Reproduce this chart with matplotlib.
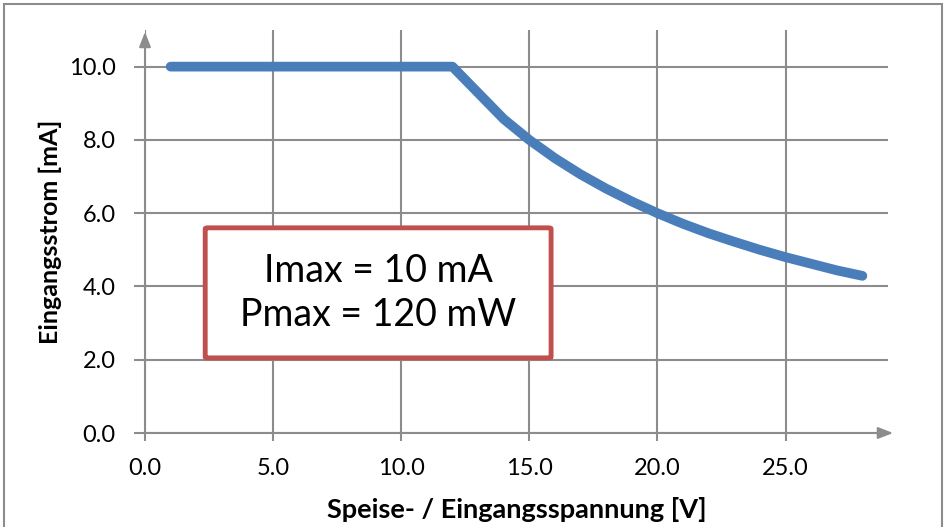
import matplotlib
matplotlib.use("Agg")
import matplotlib.pyplot as plt
from matplotlib.patches import Rectangle, FancyBboxPatch

plt.rcParams['font.family'] = ['Lato', 'DejaVu Sans']

voltage = [1, 12, 14, 15, 16, 17, 18, 19, 20, 21, 22, 23, 24, 25, 26, 27, 28]
current = [10.0, 10.0, 8.57, 8.0, 7.5, 7.06, 6.67, 6.32, 6.0, 5.71, 5.45, 5.22, 5.0, 4.8, 4.62, 4.44, 4.29]
x_ticks = [0, 5, 10, 15, 20, 25]
y_ticks = [0, 2, 4, 6, 8, 10]
x_label = "Speise- / Eingangsspannung [V]"
y_label = "Eingangsstrom [mA]"
box_text = "Imax = 10 mA\nPmax = 120 mW"

W, H = 944, 527
fig = plt.figure(figsize=(W / 100, H / 100), dpi=100)
ax = fig.add_axes([145 / W, 1 - 433 / H, (888 - 145) / W, (433 - 30) / H])
grey = '#8c8c8c'

ax.set_xlim(0, 29)
ax.set_ylim(0, 11)
ax.set_xticks(x_ticks)
ax.set_yticks(y_ticks)
ax.set_xticklabels([f"{v:.1f}" for v in x_ticks])
ax.set_yticklabels([f"{v:.1f}" for v in y_ticks])
ax.grid(True, color=grey, linewidth=1.5)
ax.set_axisbelow(True)
for s in ax.spines.values():
    s.set_visible(False)
ax.tick_params(axis='y', length=8, width=1.5, color=grey, labelsize=17, pad=13)
ax.tick_params(axis='x', length=6, width=1.5, color=grey, labelsize=17, pad=12)

# axes with arrows
ax.annotate('', xy=(29.2, 0), xytext=(0, 0), annotation_clip=False,
            arrowprops=dict(arrowstyle='-|>,head_length=0.9,head_width=0.35', color=grey, lw=1.5, shrinkA=0, shrinkB=0))
ax.annotate('', xy=(0, 10.95), xytext=(0, 0), annotation_clip=False,
            arrowprops=dict(arrowstyle='-|>,head_length=0.9,head_width=0.35', color=grey, lw=1.5, shrinkA=0, shrinkB=0))

ax.plot(voltage, current, color='#4a7ebb', linewidth=7, solid_capstyle='round', solid_joinstyle='round', zorder=3)

ax.set_xlabel(x_label, fontsize=19.5, fontweight='bold', labelpad=13)
ax.set_ylabel(y_label, fontsize=18, fontweight='bold', labelpad=5)

# annotation box
box = FancyBboxPatch((2.35, 2.05), 13.5, 3.55, boxstyle='round,pad=0,rounding_size=0.1',
                     facecolor='white', edgecolor='#c0504d', linewidth=3.5, zorder=4, mutation_aspect=0.3)
ax.add_patch(box)
ax.text(2.35 + 13.5 / 2, 2.05 + 3.55 / 2, box_text, ha='center', va='center', fontsize=27,
        linespacing=1.3, zorder=5)

# chart frame
fig.patches.append(Rectangle((4 / W, -0.02), (942 - 4) / W, 1.02 - 4 / H, transform=fig.transFigure,
                             fill=False, edgecolor='#8c8c8c', linewidth=1.5))

fig.savefig('out.png', dpi=100)
